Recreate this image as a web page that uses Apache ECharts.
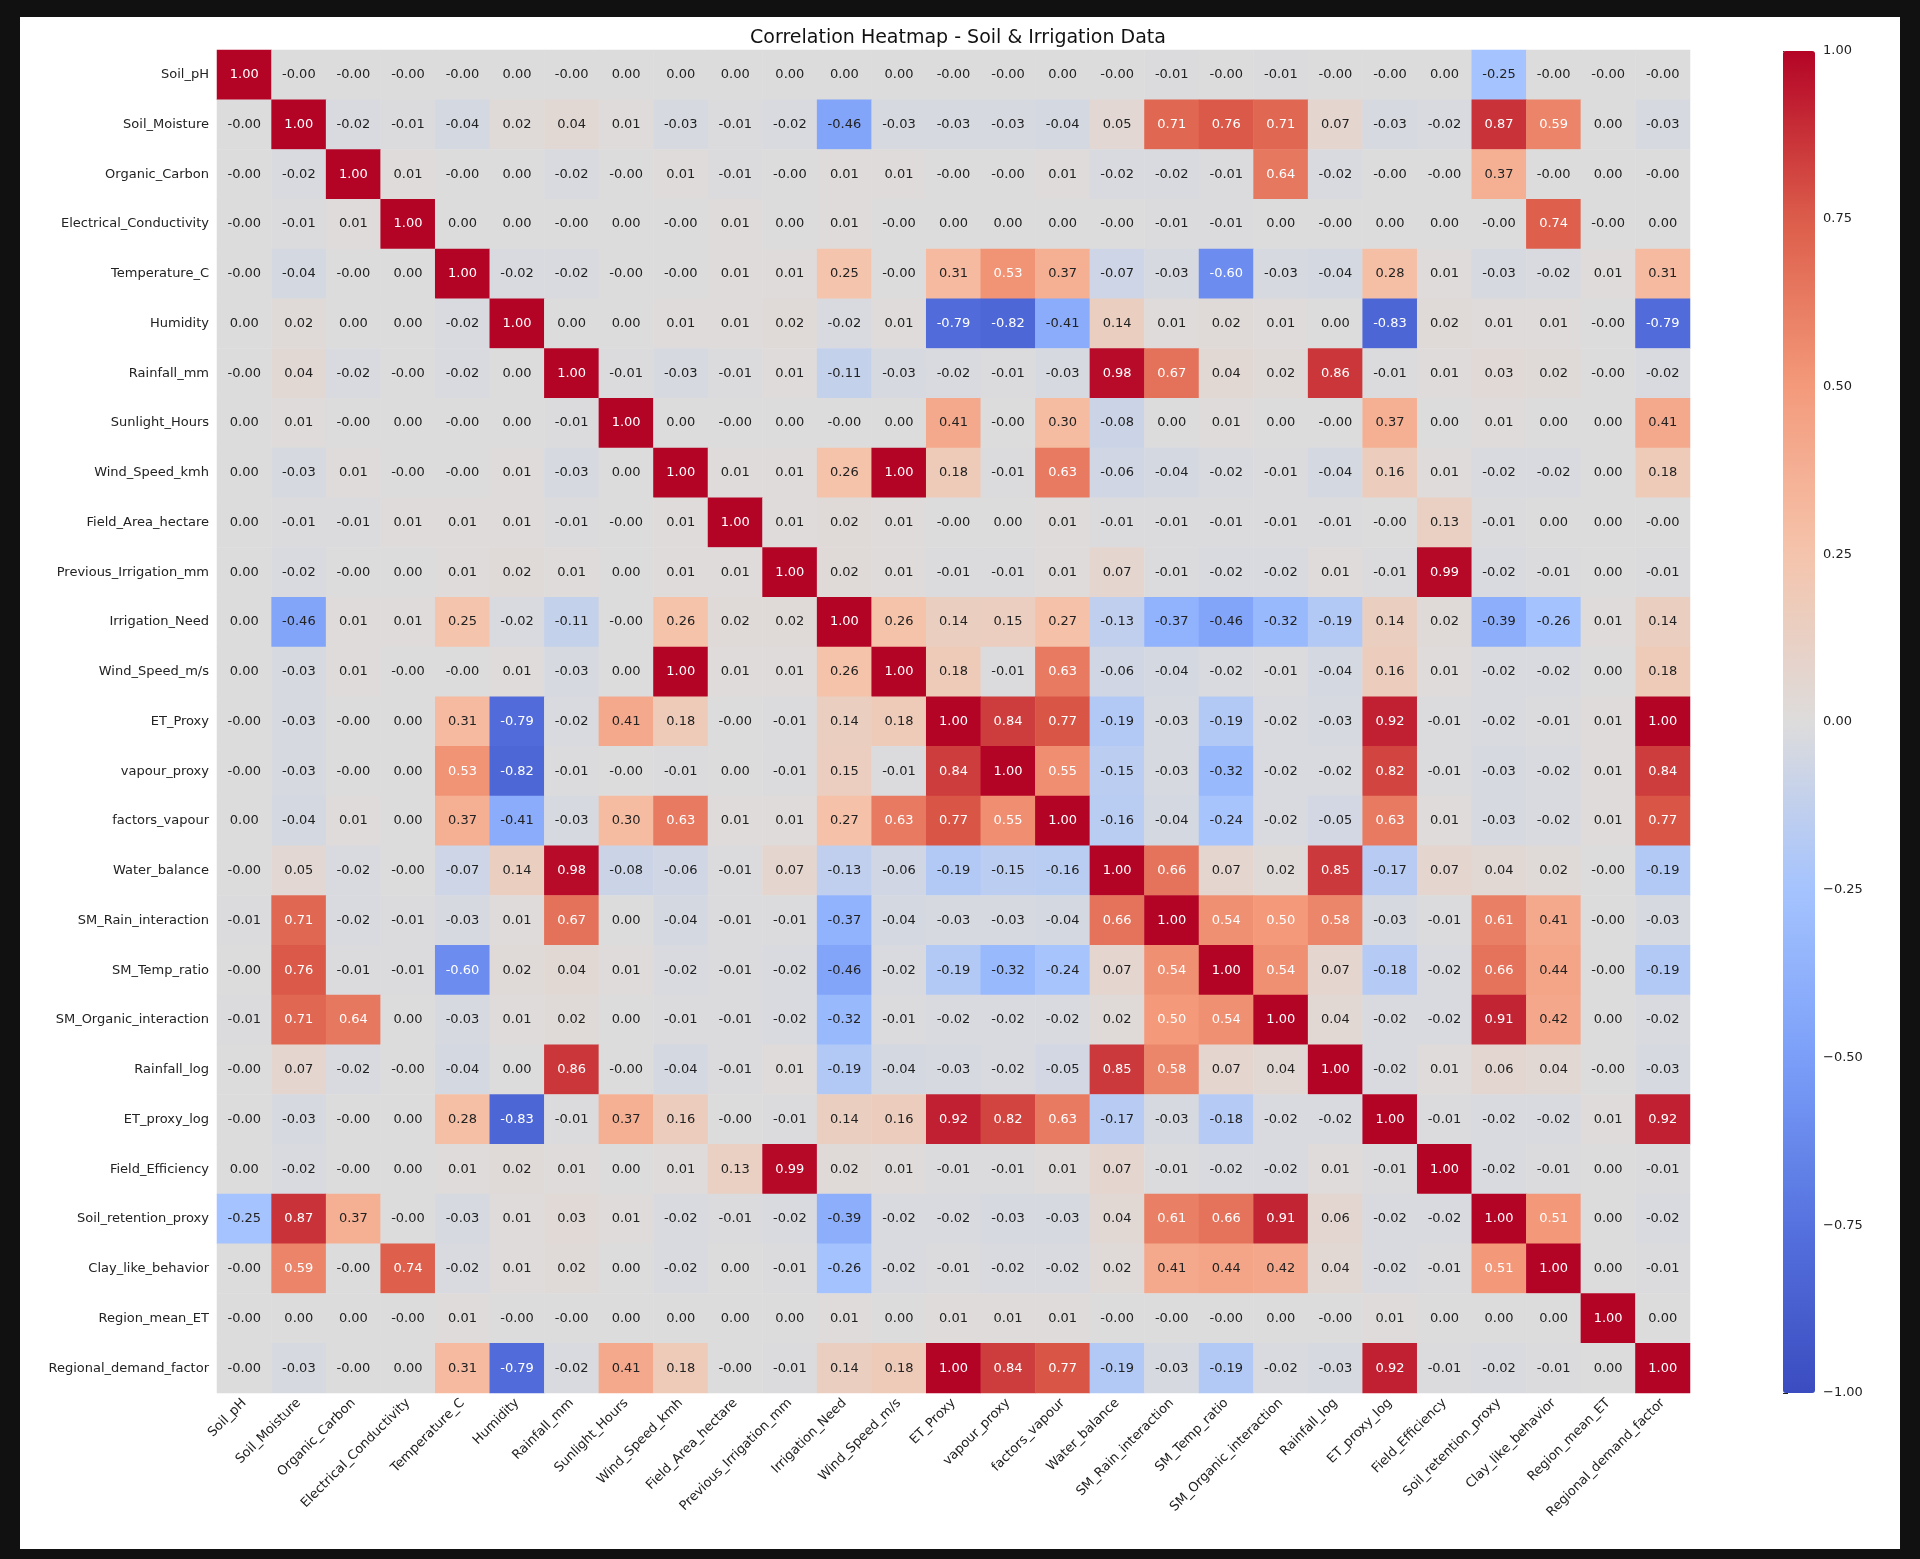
<!DOCTYPE html>
<html><head><meta charset="utf-8">
<script src="https://cdn.jsdelivr.net/npm/echarts@6/dist/echarts.min.js"></script>
<style>html,body{margin:0;padding:0;background:#111;}#c{width:1920px;height:1559px;}</style>
</head><body><div id="c"></div>
<script>
const labels = ["Soil_pH","Soil_Moisture","Organic_Carbon","Electrical_Conductivity","Temperature_C","Humidity","Rainfall_mm","Sunlight_Hours","Wind_Speed_kmh","Field_Area_hectare","Previous_Irrigation_mm","Irrigation_Need","Wind_Speed_m/s","ET_Proxy","vapour_proxy","factors_vapour","Water_balance","SM_Rain_interaction","SM_Temp_ratio","SM_Organic_interaction","Rainfall_log","ET_proxy_log","Field_Efficiency","Soil_retention_proxy","Clay_like_behavior","Region_mean_ET","Regional_demand_factor"];
const matrix = [
["1.00","-0.00","-0.00","-0.00","-0.00","0.00","-0.00","0.00","0.00","0.00","0.00","0.00","0.00","-0.00","-0.00","0.00","-0.00","-0.01","-0.00","-0.01","-0.00","-0.00","0.00","-0.25","-0.00","-0.00","-0.00"],
["-0.00","1.00","-0.02","-0.01","-0.04","0.02","0.04","0.01","-0.03","-0.01","-0.02","-0.46","-0.03","-0.03","-0.03","-0.04","0.05","0.71","0.76","0.71","0.07","-0.03","-0.02","0.87","0.59","0.00","-0.03"],
["-0.00","-0.02","1.00","0.01","-0.00","0.00","-0.02","-0.00","0.01","-0.01","-0.00","0.01","0.01","-0.00","-0.00","0.01","-0.02","-0.02","-0.01","0.64","-0.02","-0.00","-0.00","0.37","-0.00","0.00","-0.00"],
["-0.00","-0.01","0.01","1.00","0.00","0.00","-0.00","0.00","-0.00","0.01","0.00","0.01","-0.00","0.00","0.00","0.00","-0.00","-0.01","-0.01","0.00","-0.00","0.00","0.00","-0.00","0.74","-0.00","0.00"],
["-0.00","-0.04","-0.00","0.00","1.00","-0.02","-0.02","-0.00","-0.00","0.01","0.01","0.25","-0.00","0.31","0.53","0.37","-0.07","-0.03","-0.60","-0.03","-0.04","0.28","0.01","-0.03","-0.02","0.01","0.31"],
["0.00","0.02","0.00","0.00","-0.02","1.00","0.00","0.00","0.01","0.01","0.02","-0.02","0.01","-0.79","-0.82","-0.41","0.14","0.01","0.02","0.01","0.00","-0.83","0.02","0.01","0.01","-0.00","-0.79"],
["-0.00","0.04","-0.02","-0.00","-0.02","0.00","1.00","-0.01","-0.03","-0.01","0.01","-0.11","-0.03","-0.02","-0.01","-0.03","0.98","0.67","0.04","0.02","0.86","-0.01","0.01","0.03","0.02","-0.00","-0.02"],
["0.00","0.01","-0.00","0.00","-0.00","0.00","-0.01","1.00","0.00","-0.00","0.00","-0.00","0.00","0.41","-0.00","0.30","-0.08","0.00","0.01","0.00","-0.00","0.37","0.00","0.01","0.00","0.00","0.41"],
["0.00","-0.03","0.01","-0.00","-0.00","0.01","-0.03","0.00","1.00","0.01","0.01","0.26","1.00","0.18","-0.01","0.63","-0.06","-0.04","-0.02","-0.01","-0.04","0.16","0.01","-0.02","-0.02","0.00","0.18"],
["0.00","-0.01","-0.01","0.01","0.01","0.01","-0.01","-0.00","0.01","1.00","0.01","0.02","0.01","-0.00","0.00","0.01","-0.01","-0.01","-0.01","-0.01","-0.01","-0.00","0.13","-0.01","0.00","0.00","-0.00"],
["0.00","-0.02","-0.00","0.00","0.01","0.02","0.01","0.00","0.01","0.01","1.00","0.02","0.01","-0.01","-0.01","0.01","0.07","-0.01","-0.02","-0.02","0.01","-0.01","0.99","-0.02","-0.01","0.00","-0.01"],
["0.00","-0.46","0.01","0.01","0.25","-0.02","-0.11","-0.00","0.26","0.02","0.02","1.00","0.26","0.14","0.15","0.27","-0.13","-0.37","-0.46","-0.32","-0.19","0.14","0.02","-0.39","-0.26","0.01","0.14"],
["0.00","-0.03","0.01","-0.00","-0.00","0.01","-0.03","0.00","1.00","0.01","0.01","0.26","1.00","0.18","-0.01","0.63","-0.06","-0.04","-0.02","-0.01","-0.04","0.16","0.01","-0.02","-0.02","0.00","0.18"],
["-0.00","-0.03","-0.00","0.00","0.31","-0.79","-0.02","0.41","0.18","-0.00","-0.01","0.14","0.18","1.00","0.84","0.77","-0.19","-0.03","-0.19","-0.02","-0.03","0.92","-0.01","-0.02","-0.01","0.01","1.00"],
["-0.00","-0.03","-0.00","0.00","0.53","-0.82","-0.01","-0.00","-0.01","0.00","-0.01","0.15","-0.01","0.84","1.00","0.55","-0.15","-0.03","-0.32","-0.02","-0.02","0.82","-0.01","-0.03","-0.02","0.01","0.84"],
["0.00","-0.04","0.01","0.00","0.37","-0.41","-0.03","0.30","0.63","0.01","0.01","0.27","0.63","0.77","0.55","1.00","-0.16","-0.04","-0.24","-0.02","-0.05","0.63","0.01","-0.03","-0.02","0.01","0.77"],
["-0.00","0.05","-0.02","-0.00","-0.07","0.14","0.98","-0.08","-0.06","-0.01","0.07","-0.13","-0.06","-0.19","-0.15","-0.16","1.00","0.66","0.07","0.02","0.85","-0.17","0.07","0.04","0.02","-0.00","-0.19"],
["-0.01","0.71","-0.02","-0.01","-0.03","0.01","0.67","0.00","-0.04","-0.01","-0.01","-0.37","-0.04","-0.03","-0.03","-0.04","0.66","1.00","0.54","0.50","0.58","-0.03","-0.01","0.61","0.41","-0.00","-0.03"],
["-0.00","0.76","-0.01","-0.01","-0.60","0.02","0.04","0.01","-0.02","-0.01","-0.02","-0.46","-0.02","-0.19","-0.32","-0.24","0.07","0.54","1.00","0.54","0.07","-0.18","-0.02","0.66","0.44","-0.00","-0.19"],
["-0.01","0.71","0.64","0.00","-0.03","0.01","0.02","0.00","-0.01","-0.01","-0.02","-0.32","-0.01","-0.02","-0.02","-0.02","0.02","0.50","0.54","1.00","0.04","-0.02","-0.02","0.91","0.42","0.00","-0.02"],
["-0.00","0.07","-0.02","-0.00","-0.04","0.00","0.86","-0.00","-0.04","-0.01","0.01","-0.19","-0.04","-0.03","-0.02","-0.05","0.85","0.58","0.07","0.04","1.00","-0.02","0.01","0.06","0.04","-0.00","-0.03"],
["-0.00","-0.03","-0.00","0.00","0.28","-0.83","-0.01","0.37","0.16","-0.00","-0.01","0.14","0.16","0.92","0.82","0.63","-0.17","-0.03","-0.18","-0.02","-0.02","1.00","-0.01","-0.02","-0.02","0.01","0.92"],
["0.00","-0.02","-0.00","0.00","0.01","0.02","0.01","0.00","0.01","0.13","0.99","0.02","0.01","-0.01","-0.01","0.01","0.07","-0.01","-0.02","-0.02","0.01","-0.01","1.00","-0.02","-0.01","0.00","-0.01"],
["-0.25","0.87","0.37","-0.00","-0.03","0.01","0.03","0.01","-0.02","-0.01","-0.02","-0.39","-0.02","-0.02","-0.03","-0.03","0.04","0.61","0.66","0.91","0.06","-0.02","-0.02","1.00","0.51","0.00","-0.02"],
["-0.00","0.59","-0.00","0.74","-0.02","0.01","0.02","0.00","-0.02","0.00","-0.01","-0.26","-0.02","-0.01","-0.02","-0.02","0.02","0.41","0.44","0.42","0.04","-0.02","-0.01","0.51","1.00","0.00","-0.01"],
["-0.00","0.00","0.00","-0.00","0.01","-0.00","-0.00","0.00","0.00","0.00","0.00","0.01","0.00","0.01","0.01","0.01","-0.00","-0.00","-0.00","0.00","-0.00","0.01","0.00","0.00","0.00","1.00","0.00"],
["-0.00","-0.03","-0.00","0.00","0.31","-0.79","-0.02","0.41","0.18","-0.00","-0.01","0.14","0.18","1.00","0.84","0.77","-0.19","-0.03","-0.19","-0.02","-0.03","0.92","-0.01","-0.02","-0.01","0.00","1.00"]
];
const colorbarTicks = [-1, -0.75, -0.5, -0.25, 0, 0.25, 0.5, 0.75, 1];

const data = [];
matrix.forEach((row, r) => row.forEach((s, c) => {
  const v = parseFloat(s);
  data.push({value: [c, r, v], label: {color: Math.abs(v) >= 0.5 ? '#ffffff' : '#222222'}});
}));
const F = 'DejaVu Sans';
const chart = echarts.init(document.getElementById('c'));
chart.setOption({
  backgroundColor: '#111',
  animation: false,
  graphic: [{type: 'rect', left: 20, top: 17, shape: {width: 1880, height: 1532}, style: {fill: '#fff'}, z: -10}],
  title: {text: 'Correlation Heatmap - Soil & Irrigation Data', left: 953, textAlign: 'center', top: 24,
    textStyle: {fontFamily: F, fontSize: 19, fontWeight: 'normal', color: '#111'}},
  grid: [
    {left: 217, top: 50, width: 1473, height: 1343, outerBoundsMode: 'none', containLabel: false},
    {left: 1783, top: 51, width: 32, height: 1342, outerBoundsMode: 'none', containLabel: false}
  ],
  xAxis: [
    {type: 'category', data: labels, gridIndex: 0, axisLine: {show: false}, splitLine: {show: false},
     axisTick: {alignWithLabel: true, length: 5, lineStyle: {color: '#222'}},
     axisLabel: {rotate: 45, interval: 0, fontFamily: F, fontSize: 13, color: '#222', margin: 8}},
    {type: 'value', gridIndex: 1, show: false, min: 0, max: 1}
  ],
  yAxis: [
    {type: 'category', data: labels, inverse: true, gridIndex: 0, axisLine: {show: false}, splitLine: {show: false},
     axisTick: {alignWithLabel: true, length: 5, lineStyle: {color: '#222'}},
     axisLabel: {interval: 0, fontFamily: F, fontSize: 13, color: '#222', margin: 8}},
    {type: 'value', gridIndex: 1, position: 'right', min: -1, max: 1, interval: 0.25,
     axisLine: {show: false}, splitLine: {show: false},
     axisTick: {show: true, length: 5, lineStyle: {color: '#222'}},
     axisLabel: {fontFamily: F, fontSize: 13, color: '#222', margin: 8,
       formatter: v => colorbarTicks.some(t => Math.abs(t - v) < 1e-9) ? (v < 0 ? '\u2212' + Math.abs(v).toFixed(2) : v.toFixed(2)) : ''}}
  ],
  visualMap: {
    min: -1, max: 1, calculable: false, orient: 'vertical', seriesIndex: 0, padding: 0,
    left: 1783, top: 51, itemWidth: 32, itemHeight: 1342, showLabel: false,
    inRange: {color: ['#3b4cc0','#5572df','#7b9ff9','#a5c3fe','#dddcdc','#f5c4ac','#f49a7b','#dc5d4a','#b40426']}
  },
  series: [
    {type: 'heatmap', xAxisIndex: 0, yAxisIndex: 0, data: data,
     label: {show: true, fontFamily: F, fontSize: 13, formatter: p => matrix[p.value[1]][p.value[0]]},
     itemStyle: {borderWidth: 0}},
    {type: 'line', xAxisIndex: 1, yAxisIndex: 1, data: [], silent: true}
  ]
});
</script></body></html>
